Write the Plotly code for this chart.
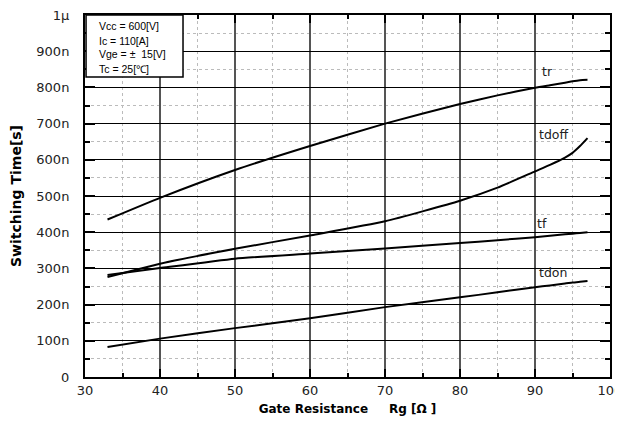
import plotly.graph_objects as go

# Gate resistance (ohm)
rg = [33, 40, 50, 60, 70, 80, 85, 90, 92, 94, 95, 96, 97]
# Switching times (ns)
tr = [435, 495, 572, 638, 700, 754, 778, 799, 806, 813, 817, 820, 821]
tdoff = [276, 313, 354, 391, 430, 487, 523, 568, 586, 606, 619, 638, 660]
tf = [282, 301, 327, 341, 355, 370, 378, 386, 390, 394, 396, 398, 400]
tdon = [83, 106, 135, 162, 193, 220, 234, 248, 253, 258, 261, 263, 265]

series = [("tr", tr, 91.7, 845), ("tdoff", tdoff, 92.4, 670),
          ("tf", tf, 90.9, 425), ("tdon", tdon, 92.4, 288)]

ytick_vals = [0, 100, 200, 300, 400, 500, 600, 700, 800, 900, 1000]
ytick_text = ["0", "100n", "200n", "300n", "400n", "500n", "600n", "700n", "800n", "900n", "1μ"]
xtick_vals = [30, 40, 50, 60, 70, 80, 90, 100]

cond_lines = ["Vcc = 600[V]", "Ic = 110[A]", "Vge = ±  15[V]", "Tc = 25[℃]"]

FONT = "Liberation Sans, Arial, sans-serif"
WIDE = "DejaVu Sans, Verdana, sans-serif"

# page body adds an 8px margin; compensate
OFF = 8
W, H = 623 - OFF, 422 - OFF
L, R, T, B = 85 - OFF, 13, 15 - OFF, 45
PH = 362

fig = go.Figure()
for name, ys, lx, ly in series:
    fig.add_trace(go.Scatter(x=rg, y=ys, mode="lines", line=dict(color="black", width=2, shape="spline", smoothing=0.5),
                             showlegend=False, name=name))
    fig.add_annotation(x=lx, y=ly, text=name, showarrow=False, xref="x", yref="y",
                       font=dict(family=WIDE, size=12.5, color="#222"))

fig.update_xaxes(range=[30, 100], tickvals=xtick_vals, ticks="inside", ticklen=8, tickwidth=2, tickcolor="black",
                 showline=True, linecolor="black", linewidth=2, mirror="allticks", automargin=False,
                 ticklabeloverflow="allow",
                 showgrid=True, gridcolor="#555", gridwidth=1.5, zeroline=False,
                 minor=dict(dtick=5, ticks="inside", ticklen=4, tickwidth=2, tickcolor="black",
                            showgrid=True, gridcolor="#bbb", griddash="dot", gridwidth=1),
                 tickfont=dict(family=WIDE, size=13, color="#222"),
                 title=dict(text="<b>Gate Resistance     Rg [Ω ]</b>", font=dict(family=WIDE, size=12, color="black"), standoff=8))
fig.update_yaxes(range=[0, 1000], tickvals=ytick_vals, ticktext=ytick_text, ticks="inside", ticklen=10, tickwidth=2,
                 tickcolor="black", ticklabelstandoff=11, automargin=False, ticklabeloverflow="allow",
                 showline=True, linecolor="black", linewidth=2, mirror="allticks",
                 showgrid=True, gridcolor="black", gridwidth=1, zeroline=False,
                 minor=dict(dtick=50, ticks="inside", ticklen=5, tickwidth=2, tickcolor="black",
                            showgrid=True, gridcolor="#bbb", griddash="dot", gridwidth=1),
                 tickfont=dict(family=WIDE, size=13, color="#222"),
                 title=dict(text="<b>Switching Time[s]</b>", font=dict(family=WIDE, size=14, color="black"), standoff=11))

# condition box
fig.add_shape(type="rect", xref="paper", yref="paper", x0=0.002, x1=0.1867, y0=0.8287, y1=1,
              line=dict(color="black", width=1.5), fillcolor="white", layer="above")
line_py = [26, 41.3, 54.5, 68.7]
for txt, py in zip(cond_lines, line_py):
    fig.add_annotation(xref="paper", yref="paper", x=(96.5 - 85) / 525, y=(377 - py) / PH, xanchor="left",
                       yanchor="middle", text=txt, showarrow=False,
                       font=dict(family=FONT, size=10.5, color="black"))

fig.update_layout(width=W, height=H, margin=dict(l=L, r=R, t=T, b=B),
                  plot_bgcolor="white", paper_bgcolor="white")
fig.write_html("out.html")
